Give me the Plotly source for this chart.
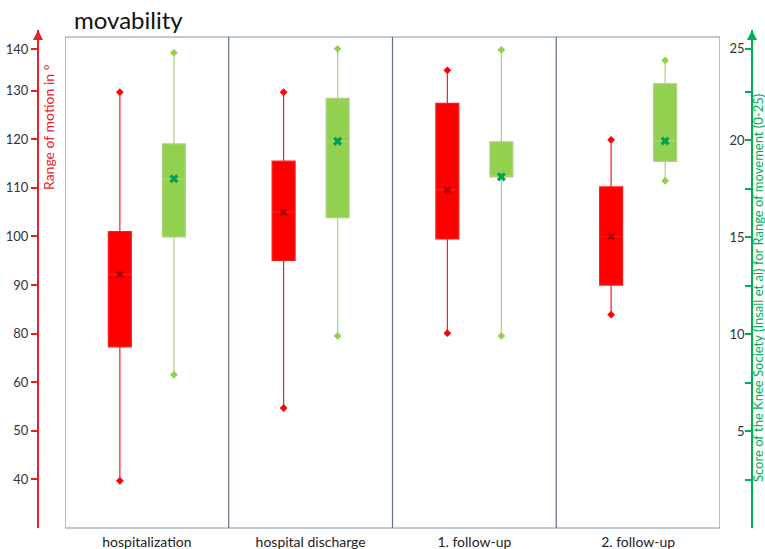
import plotly.graph_objects as go

# ---------------- data ----------------
categories = ["hospitalization", "hospital discharge", "1. follow-up", "2. follow-up"]

# Range of motion (left axis, degrees, in axis-position units)
rom_min = [49.7, 64.7, 80.1, 83.9]
rom_q1 = [77.3, 95.1, 99.5, 90.0]
rom_q3 = [101.0, 115.5, 127.4, 110.2]
rom_max = [129.7, 129.7, 134.2, 119.9]
rom_mean = [92.2, 105.0, 109.6, 100.0]

# Knee Society score (right axis, 0-25)
ks_min = [7.9, 9.9, 9.9, 17.9]
ks_q1 = [15.0, 16.0, 18.1, 18.9]
ks_q3 = [19.8, 22.15, 19.9, 22.9]
ks_max = [24.5, 24.7, 24.65, 24.1]
ks_mean = [18.0, 19.93, 18.1, 19.95]

left_tickvals = [50, 60, 70, 80, 90, 100, 110, 120, 130, 138.6]
left_ticktext = ["40", "50", "60", "80", "90", "100", "110", "120", "130", "140"]
right_tickvals = [2.5, 5, 7.5, 10, 12.5, 15, 17.5, 20, 22.5, 24.7]
right_ticktext = ["", "5", "", "10", "", "15", "", "20", "", "25"]

FONT = "Lato"
RED = "#ff0000"
GREEN = "#92d050"
AXGREEN = "#00b050"

n = len(categories)
centers = [i + 0.5 for i in range(n)]
off = 0.165
red_x = [c - off for c in centers]
green_x = [c + off for c in centers]

fig = go.Figure()

fig.add_trace(go.Box(
    x=red_x, q1=rom_q1, median=rom_mean, q3=rom_q3,
    lowerfence=rom_min, upperfence=rom_max,
    width=0.14, whiskerwidth=0, fillcolor=RED,
    line=dict(color="#ff1a1a", width=1.2),
    boxpoints=False, yaxis="y", showlegend=False, hoverinfo="skip"))
fig.add_trace(go.Box(
    x=green_x, q1=ks_q1, median=ks_mean, q3=ks_q3,
    lowerfence=ks_min, upperfence=ks_max,
    width=0.14, whiskerwidth=0, fillcolor=GREEN,
    line=dict(color="#a8d47a", width=1.2),
    boxpoints=False, yaxis="y2", showlegend=False, hoverinfo="skip"))

# whisker caps
fig.add_trace(go.Scatter(x=red_x + red_x, y=rom_min + rom_max, mode="markers",
                         marker=dict(symbol="diamond", size=6, color=RED),
                         yaxis="y", showlegend=False, hoverinfo="skip"))
fig.add_trace(go.Scatter(x=green_x + green_x, y=ks_min + ks_max, mode="markers",
                         marker=dict(symbol="diamond", size=6, color=GREEN),
                         yaxis="y2", showlegend=False, hoverinfo="skip"))
# means
fig.add_trace(go.Scatter(x=red_x, y=rom_mean, mode="markers",
                         marker=dict(symbol="x", size=7, color="#b00000"),
                         yaxis="y", showlegend=False, hoverinfo="skip"))
fig.add_trace(go.Scatter(x=green_x, y=ks_mean, mode="markers",
                         marker=dict(symbol="x", size=8, color="#00a050"),
                         yaxis="y2", showlegend=False, hoverinfo="skip"))

W, H = 765, 549
ml, mr, mt, mb = 38, 13, 30, 21
pw = W - ml - mr
ph = H - mt - mb
xd0 = (65 - ml) / pw
xd1 = (720 - ml) / pw
frame_top = (528 - 37) / ph

shapes = [dict(type="rect", xref="x", yref="paper", x0=0, x1=n, y0=0, y1=frame_top,
               line=dict(color="#8494a8", width=1.2))]
for i in range(1, n):
    shapes.append(dict(type="line", xref="x", yref="paper", x0=i, x1=i, y0=0, y1=frame_top,
                       line=dict(color="#5f6f84", width=1.2)))

annotations = [
    dict(text="movability", xref="paper", yref="paper", x=(72 - ml) / pw, y=1 + 10 / ph,
         xanchor="left", yanchor="middle", showarrow=False,
         font=dict(family=FONT, size=24, color="#111111")),
    dict(text="Range of motion in °", xref="paper", yref="paper", x=(49 - ml) / pw,
         y=(528 - 127) / ph, xanchor="center", yanchor="middle", textangle=-90,
         showarrow=False, font=dict(family=FONT, size=14, color="#e8202a")),
    dict(text="Score of the Knee Society (Insall et al) for Range of movement (0-25)",
         xref="paper", yref="paper", x=(758 - ml) / pw, y=(528 - 288) / ph,
         xanchor="center", yanchor="middle", textangle=-90, showarrow=False,
         borderpad=0,
         font=dict(family=FONT, size=13, color=AXGREEN)),
    # axis arrowheads
    dict(text="", xref="paper", yref="paper", x=0, y=1, ax=0, ay=14, showarrow=True,
         arrowhead=2, arrowsize=1, arrowwidth=2, arrowcolor="#e8202a"),
    dict(text="", xref="paper", yref="paper", x=1, y=1, ax=0, ay=14, showarrow=True,
         arrowhead=2, arrowsize=1, arrowwidth=2, arrowcolor=AXGREEN),
]

fig.update_layout(
    width=W, height=H,
    margin=dict(l=ml, r=mr, t=mt, b=mb, autoexpand=False),
    paper_bgcolor="white", plot_bgcolor="white",
    font=dict(family=FONT, size=13, color="#333333"),
    showlegend=False,
    xaxis=dict(domain=[xd0, xd1], range=[0, n], tickmode="array", tickvals=centers,
               ticktext=categories, showgrid=False, zeroline=False, showline=False,
               ticks="", automargin=False, ticklabelstandoff=4,
               tickfont=dict(family=FONT, size=14, color="#222222")),
    yaxis=dict(anchor="free", position=0, range=[40, 142.5], tickmode="array",
               tickvals=left_tickvals, ticktext=left_ticktext, showgrid=False,
               zeroline=False, showline=True, linecolor="#e8202a", linewidth=2,
               ticks="outside", ticklen=6, tickwidth=2, tickcolor="#e8202a",
               automargin=False,
               tickfont=dict(family=FONT, size=13, color="#333333")),
    yaxis2=dict(anchor="free", position=1, overlaying="y", side="right",
                range=[0, 25.67], tickmode="array", tickvals=right_tickvals,
                ticktext=right_ticktext, showgrid=False, zeroline=False, showline=True,
                linecolor=AXGREEN, linewidth=2, ticks="inside", ticklen=6, tickwidth=2,
                tickcolor=AXGREEN, ticklabelposition="inside", automargin=False,
                tickfont=dict(family=FONT, size=13, color="#333333")),
    shapes=shapes,
    annotations=annotations,
)

fig.write_html("out.html", config={"displayModeBar": False},
               post_script="document.body.style.margin='0';")
